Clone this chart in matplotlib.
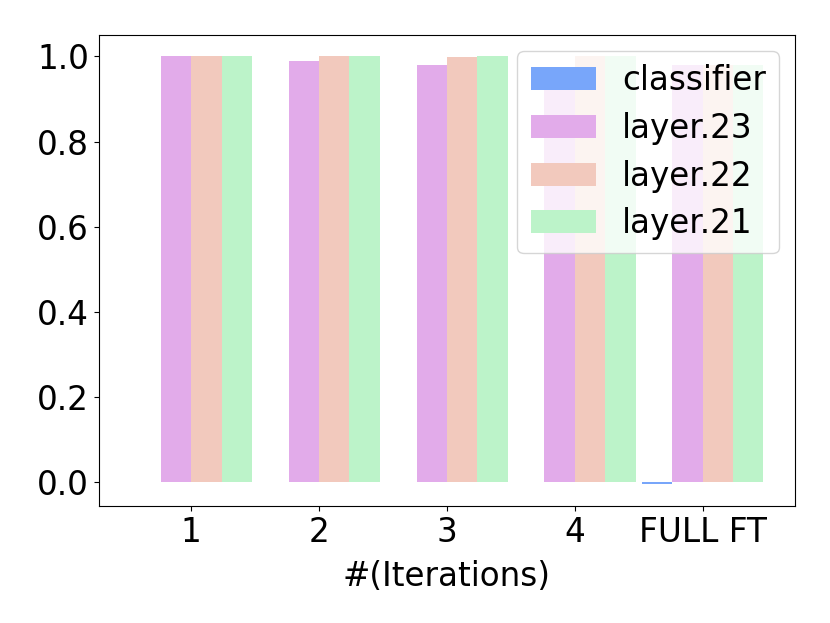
import matplotlib
matplotlib.use('Agg')
import matplotlib.pyplot as plt
import numpy as np

groups = ['1', '2', '3', '4', 'FULL FT']
series = ['classifier', 'layer.23', 'layer.22', 'layer.21']
classifier = [0.001, 0.001, 0.001, 0.001, -0.005]
layer23 = [1.0, 0.99, 0.98, 0.96, 0.98]
layer22 = [1.0, 1.0, 0.998, 1.0, 0.98]
layer21 = [1.0, 1.0, 1.0, 1.0, 0.98]
colors = ['#78a6fa', '#e2abea', '#f2c9bd', '#bcf3c9']

plt.rcParams['font.size'] = 23.5

fig = plt.figure(figsize=(8.3, 6.23), dpi=100)
ax = fig.add_subplot(111)
fig.subplots_adjust(left=0.119, right=0.958, top=0.944, bottom=0.188)

x = np.arange(len(groups))
w = 0.95 / 4
for i, (name, vals) in enumerate(zip(series, [classifier, layer23, layer22, layer21])):
    ax.bar(x + (i - 1.5) * w, vals, width=w, color=colors[i], label=name, linewidth=0)

ax.set_xticks(x)
ax.set_xticklabels(groups)
ax.set_xlabel('#(Iterations)', labelpad=8)
ax.legend(loc='upper right', labelspacing=0.45)

plt.savefig('out.png', dpi=100)
